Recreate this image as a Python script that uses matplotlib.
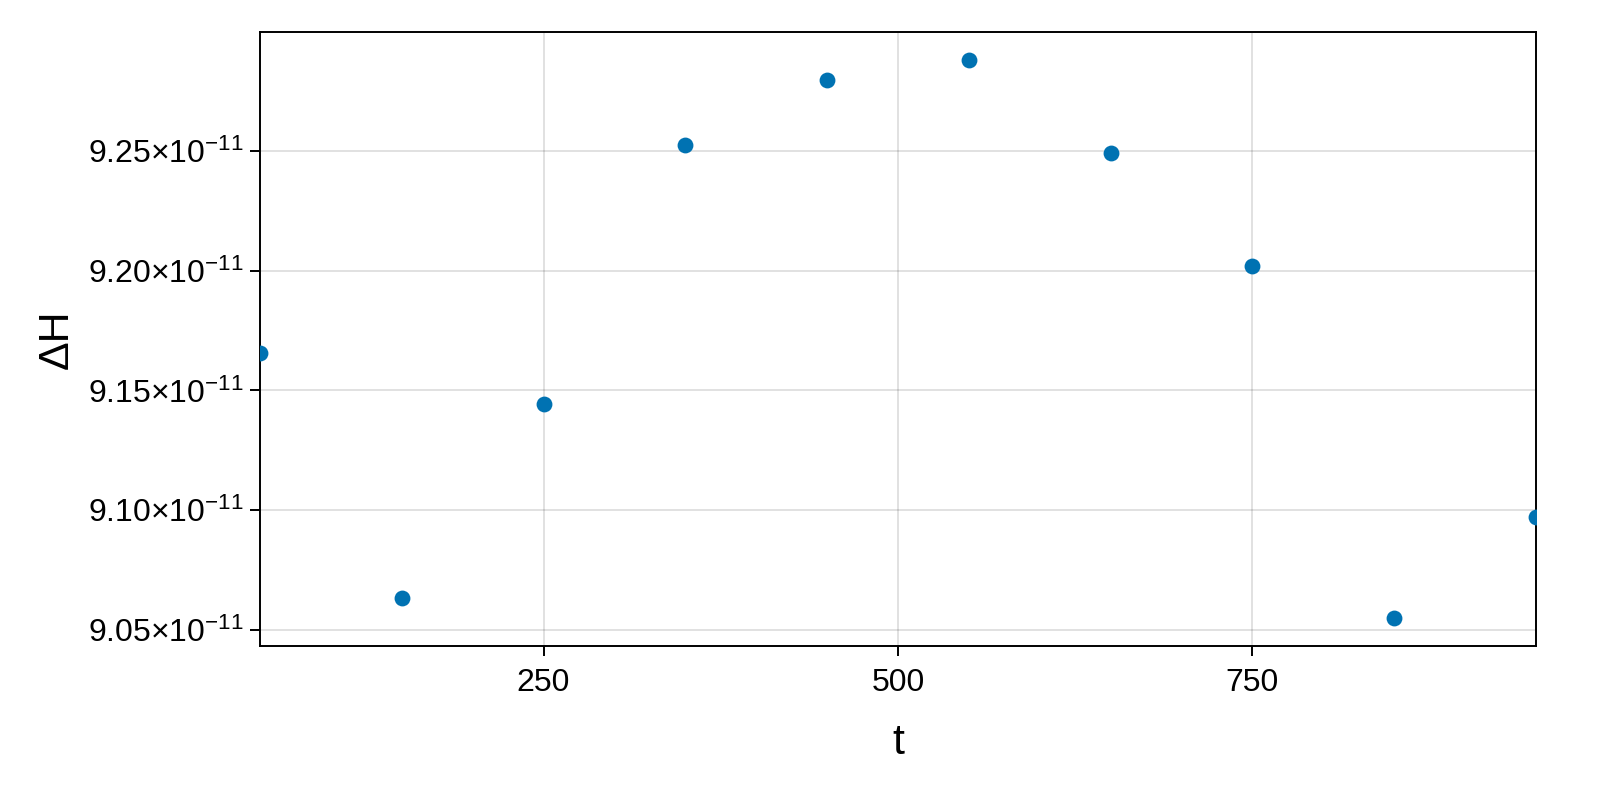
import matplotlib
matplotlib.use("Agg")
import matplotlib.pyplot as plt
from matplotlib.ticker import FuncFormatter
import numpy as np

plt.rcParams['font.family'] = ['Liberation Sans', 'DejaVu Sans']
plt.rcParams['mathtext.fontset'] = 'custom'
plt.rcParams['mathtext.rm'] = 'Liberation Sans'
plt.rcParams['mathtext.it'] = 'Liberation Sans'

# time points and energy error (units of 1e-11)
t = [50, 150, 250, 350, 450, 550, 650, 750, 850, 950]
dH = [9.1654, 9.0633, 9.1442, 9.2525, 9.2796, 9.2879, 9.2492, 9.2021, 9.0550, 9.0971]
dH = np.array(dH) * 1e-11

xticks = [250, 500, 750]
yticks = np.array([9.05, 9.10, 9.15, 9.20, 9.25]) * 1e-11

fig = plt.figure(figsize=(16, 8), dpi=100)
ax = fig.add_axes([260 / 1600, 1 - 646 / 800, (1536 - 260) / 1600, (646 - 32) / 800])

ax.scatter(t, dH, s=130, color='#0072B2', zorder=3, clip_on=True, linewidths=0)

ax.set_xlim(50, 950)
span = dH.max() - dH.min()
ax.set_ylim(dH.min() - 0.05 * span, dH.max() + 0.05 * span)

ax.set_xticks(xticks)
ax.set_yticks(yticks)
ax.yaxis.set_major_formatter(FuncFormatter(lambda v, p: r"$%.2f{\times}10^{-11}$" % (v / 1e-11)))

ax.grid(True, color='#000000', alpha=0.12, linewidth=1.4)
ax.set_axisbelow(True)
for s in ax.spines.values():
    s.set_linewidth(1.4)
ax.tick_params(length=7, width=1.4, labelsize=23)
ax.tick_params(axis='x', pad=9)
ax.tick_params(axis='y', pad=5)

ax.set_xlabel('t', fontsize=31, labelpad=18)
ax.set_ylabel('ΔH', fontsize=31, labelpad=8)

fig.savefig('out.png', dpi=100)
